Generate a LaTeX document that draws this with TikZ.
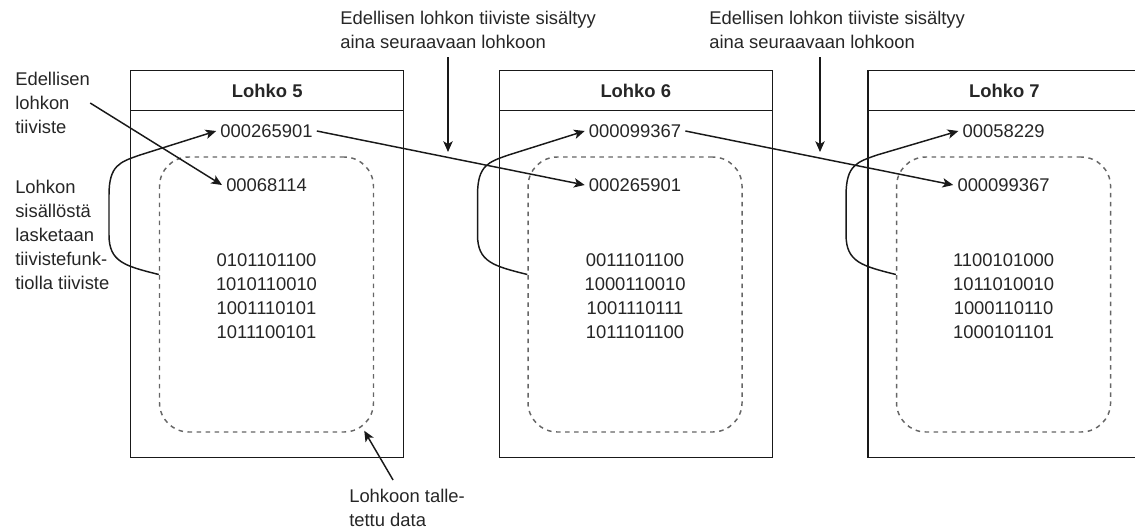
\documentclass[tikz,border=0pt]{standalone}
\usepackage{fontspec}
\setmainfont{Liberation Sans}
\usetikzlibrary{arrows.meta,calc}
\begin{document}
\begin{tikzpicture}[x=0.75pt,y=-0.75pt,
  every node/.style={font=\fontsize{13.8pt}{18pt}\selectfont, text=black!85},
  blk/.style={draw=black!90, line width=1.1pt, anchor=north west, minimum width=204.75pt, minimum height=290.25pt, inner sep=0pt},
  hdr/.style={draw=black!90, line width=1.1pt, anchor=north, minimum width=204.75pt, minimum height=30pt, inner sep=0pt, font=\fontsize{13.8pt}{18pt}\selectfont\bfseries},
  dat/.style={draw=black!60, line width=1.1pt, dash pattern=on 3.4pt off 3.4pt, rounded corners=22pt, minimum width=160.5pt, minimum height=206.25pt, inner sep=0pt},
  hash/.style={inner sep=3pt},
  lbl/.style={align=left, inner sep=0pt, anchor=north west},
  arr/.style={draw=black!90, line width=1.1pt, -{Stealth[length=8pt,width=7pt,inset=2pt]}},
]
\useasboundingbox (0,0) rectangle (1135,529);
\clip (0,0) rectangle (1135,529);

\foreach \i/\ta/\tb/\ba/\bb/\bc/\bd in {
  5/000265901/00068114/0101101100/1010110010/1001110101/1011100101,
  6/000099367/000265901/0011101100/1000110010/1001110111/1011101100,
  7/00058229/000099367/1100101000/1011010010/1000110110/1000101101}{
  \begin{scope}[xshift={(\i-5)*276.4pt}]
    \node[blk] (b\i) at (130,70) {};
    \node[hdr] (t\i) at (b\i.north) {Lohko \i};
    \node[dat] (d\i) at (266.5,294.5) {};
    \node[hash] (ha\i) at (266.5,131) {\ta};
    \node[hash] (hb\i) at (266.5,185) {\tb};
    \node[align=center, inner sep=0pt] (bin\i) at (266.5,296) {\ba\\\bb\\\bc\\\bd};
    \draw[arr] ([yshift=15pt]d\i.west) .. controls (125,266) and (109,262) .. (109,235)
      -- (109,195) .. controls (109,165) and (120,162) .. (140,155) -- (ha\i.west);
  \end{scope}
}

\draw[arr] (ha5.east) -- (hb6.west);
\draw[arr] (ha6.east) -- (hb7.west);

\node[lbl] (n5) at (340,11) {Edellisen lohkon tiiviste sisältyy\\aina seuraavaan lohkoon};
\node[lbl] (n6) at (709,11) {Edellisen lohkon tiiviste sisältyy\\aina seuraavaan lohkoon};
\coordinate (e5) at (448,152);
\coordinate (e6) at (820,152);
\draw[arr] ($(n5.south -| e5)+(0,8)$) -- (e5);
\draw[arr] ($(n6.south -| e6)+(0,8)$) -- (e6);

\node[lbl] (l1) at (15,72) {Edellisen\\lohkon\\tiiviste};
\draw[arr] (l1.east) -- (hb5.west);
\node[lbl] (l2) at (15,180) {Lohkon\\sisällöstä\\lasketaan\\tiivistefunk-\\tiolla tiiviste};

\node[lbl] (l3) at (349,489) {Lohkoon talle-\\tettu data};
\draw[arr] ($(l3.north)+(-14,-9)$) -- ($(d5.south east)+(-10,-2)$);
\end{tikzpicture}
\end{document}
